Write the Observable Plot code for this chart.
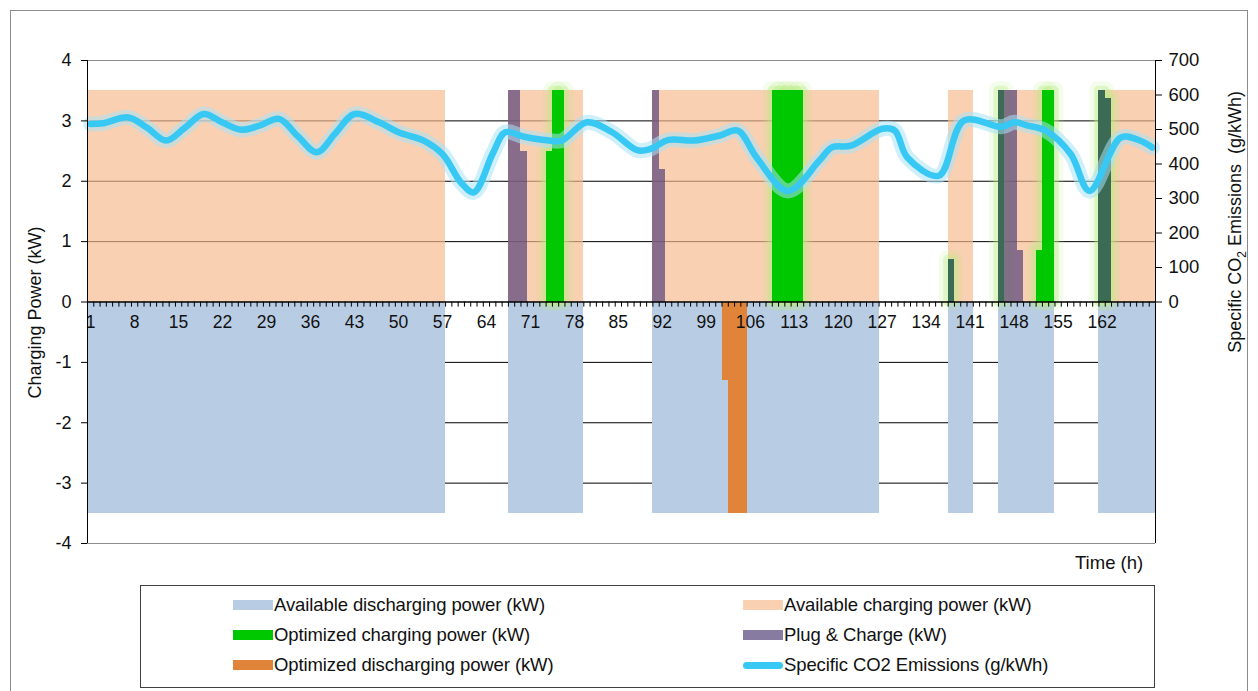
<!DOCTYPE html>
<html>
<head>
<meta charset="utf-8">
<script src="https://cdn.jsdelivr.net/npm/d3@7"></script>
<script src="https://cdn.jsdelivr.net/npm/@observablehq/plot@0.6"></script>
<style>
  html, body { margin: 0; padding: 0; background: #fff; overflow: hidden; }
  #wrap { position: relative; width: 1258px; height: 691px; font-family: "Liberation Sans", Arial, sans-serif; color: #111; }
  #border { position: absolute; left: 10px; top: 10px; width: 1236px; height: 700px; border: 1px solid #8c8c8c; }
  #chart { position: absolute; left: 0; top: 0; }
  .ylab { position: absolute; font-size: 18px; white-space: nowrap; transform-origin: center center; }
  #legend { position: absolute; left: 140px; top: 585px; width: 1013px; height: 101px; border: 1px solid #404040; background: #fff; }
  .item { position: absolute; font-size: 18.5px; white-space: nowrap; line-height: 20px; letter-spacing: -0.1px; }
  .sw { display: inline-block; width: 40px; height: 10px; vertical-align: middle; margin-right: 1px; position: relative; top: -1px; }
</style>
</head>
<body>
<div id="wrap">
  <div id="border"></div>
  <div id="chart"></div>
  <div class="ylab" id="leftTitle">Charging Power (kW)</div>
  <div class="ylab" id="rightTitle">Specific CO<sub style="font-size:12px">2</sub> Emissions&nbsp; (g/kWh)</div>
  <div class="ylab" id="xTitle" style="left:1075px; top:552px; font-size:18.5px;">Time (h)</div>
  <div id="legend"></div>
</div>
<script>
// ---------------- data ----------------
const hourCount = 170;
const xTickLabels = [1, 8, 15, 22, 29, 36, 43, 50, 57, 64, 71, 78, 85, 92, 99, 106, 113, 120, 127, 134, 141, 148, 155, 162];
const leftTicks = [-4, -3, -2, -1, 0, 1, 2, 3, 4];
const co2Ticks = [0, 100, 200, 300, 400, 500, 600, 700];

// periods when the vehicle is plugged in [first hour, last hour]
const pluggedWindows = [[1, 57], [68, 79], [91, 126], [138, 141], [146, 154], [162, 170]];
const availableCharging = 3.5;     // kW
const availableDischarging = -3.5; // kW

// [hour, kW]
const optimizedCharging = [[74, 2.5], [75, 3.5], [76, 3.5], [110, 3.5], [111, 3.5], [112, 3.5], [113, 3.5], [114, 3.5],
  [138, 0.7], [146, 3.5], [152, 0.86], [153, 3.5], [154, 3.5], [162, 3.5], [163, 3.37]];
const plugAndCharge = [[68, 3.5], [69, 3.5], [70, 2.5], [91, 3.5], [92, 2.2], [138, 0.7], [146, 3.5], [147, 3.5],
  [148, 3.5], [149, 0.86], [162, 3.5], [163, 3.37]];
const optimizedDischarging = [[102, -1.3], [103, -3.5], [104, -3.5], [105, -3.5]];

// [hour, g/kWh]
const co2Emissions = [[1, 516], [3, 518], [7, 535], [10, 505], [13, 468], [16, 505], [19, 545], [22, 520], [25, 499],
  [28, 512], [31, 531], [34, 480], [37, 434], [40, 490], [43, 545], [47, 520], [50, 492], [54, 468], [57, 429],
  [60, 345], [62, 318], [65, 430], [67, 492], [70, 479], [74, 468], [76, 468], [80, 521], [84, 492], [88, 440],
  [90, 443], [93, 470], [97, 468], [101, 482], [104, 497], [107, 419], [112, 322], [117, 410], [119, 448],
  [122, 453], [127, 502], [129, 497], [131, 419], [136, 366], [140, 526], [146, 508], [148, 521], [150, 512],
  [153, 497], [157, 429], [160, 322], [165, 477], [168, 468], [170, 448]];

// ---------------- chart ----------------
const co2Max = 700, yTop = 4;
const toKW = v => v * yTop / co2Max;
const boundaries = d3.range(0, hourCount + 1).map(i => i + 0.5);

const colors = {
  discharge: "#b8cce4",
  charge: "#f7b98e",
  green: "#00c800",
  glow: "#b8ee82",
  purple: "rgb(86,67,121)",
  orange: "#e0843a",
  co2: "#38c8f4",
  co2glow: "#a8e2f7"
};

const chart = Plot.plot({
  width: 1258,
  height: 580,
  marginLeft: 87,
  marginRight: 103,
  marginTop: 60,
  marginBottom: 37,
  x: { domain: [0.5, hourCount + 0.5], axis: null },
  y: { domain: [-4, 4], axis: null },
  style: { fontFamily: "Liberation Sans, Arial, sans-serif", fontSize: "18px", color: "#111", background: "transparent" },
  marks: [
    Plot.ruleY(leftTicks.filter(d => Math.abs(d) !== 4 && d !== 0), { stroke: "#000", strokeWidth: 1 }),
    Plot.ruleY([-4, 4], { stroke: "#8c8c8c", strokeWidth: 1 }),
    Plot.rectY(pluggedWindows, { x1: d => d[0] - 0.5, x2: d => d[1] + 0.5, y1: 0, y2: availableCharging, fill: colors.charge, fillOpacity: 0.68, shapeRendering: "crispEdges" }),
    Plot.rectY(pluggedWindows, { x1: d => d[0] - 0.5, x2: d => d[1] + 0.5, y1: 0, y2: availableDischarging, fill: colors.discharge, shapeRendering: "crispEdges" }),
    // glow of optimized charging
    Plot.rectY(optimizedCharging, { x1: d => d[0] - 0.5, x2: d => d[0] + 0.5, y1: 0, y2: d => d[1], fill: colors.glow, stroke: colors.glow, strokeWidth: 18, strokeOpacity: 0.16, fillOpacity: 0.2, strokeLinejoin: "round" }),
    Plot.rectY(optimizedCharging, { x1: d => d[0] - 0.5, x2: d => d[0] + 0.5, y1: 0, y2: d => d[1], fill: "none", stroke: colors.glow, strokeWidth: 9, strokeOpacity: 0.35, strokeLinejoin: "round" }),
    Plot.rectY(optimizedCharging, { x1: d => d[0] - 0.5, x2: d => d[0] + 0.5, y1: 0, y2: d => d[1], fill: colors.green, shapeRendering: "crispEdges" }),
    Plot.rectY(plugAndCharge, { x1: d => d[0] - 0.5, x2: d => d[0] + 0.5, y1: 0, y2: d => d[1], fill: colors.purple, fillOpacity: 0.7, shapeRendering: "crispEdges" }),
    Plot.rectY(optimizedDischarging, { x1: d => d[0] - 0.5, x2: d => d[0] + 0.5, y1: 0, y2: d => d[1], fill: colors.orange, shapeRendering: "crispEdges" }),
    // CO2 line with glow
    Plot.line(co2Emissions, { x: d => d[0], y: d => toKW(d[1]), curve: "catmull-rom", stroke: colors.co2glow, strokeWidth: 15, strokeOpacity: 0.55 }),
    Plot.line(co2Emissions, { x: d => d[0], y: d => toKW(d[1]), curve: "catmull-rom", stroke: colors.co2, strokeWidth: 6.5 }),
    // x axis at zero
    Plot.ruleY([0], { stroke: "#000", strokeWidth: 1.5 }),
    Plot.ruleX(boundaries, { x: d => d, y1: 0, y2: -0.085, stroke: "#000", strokeWidth: 1 }),
    Plot.text(xTickLabels, { x: d => d, y: 0, dy: 20, text: d => String(d), fill: "#111", fontSize: 17.5 }),
    // axes
    Plot.ruleX([0.5, hourCount + 0.5], { stroke: "#000", strokeWidth: 1 }),
    Plot.axisY(leftTicks, { anchor: "left", tickSize: 6, tickPadding: 10, tickFormat: d => String(d), label: null, fontSize: 18, stroke: "#000" }),
    Plot.axisY(co2Ticks.map(toKW), { anchor: "right", tickSize: 6, tickPadding: 7, tickFormat: d => String(Math.round(d * co2Max / yTop)), label: null, fontSize: 18.5, stroke: "#000" })
  ]
});
document.getElementById("chart").appendChild(chart);

// axis titles
const lt = document.getElementById("leftTitle");
lt.style.left = (35 - lt.offsetWidth / 2) + "px";
lt.style.top = (312 - lt.offsetHeight / 2) + "px";
lt.style.transform = "rotate(-90deg)";
const rt = document.getElementById("rightTitle");
rt.style.left = (1237 - rt.offsetWidth / 2) + "px";
rt.style.top = (222 - rt.offsetHeight / 2) + "px";
rt.style.transform = "rotate(-90deg)";

// legend
const legendItems = [
  { label: "Available discharging power (kW)", color: colors.discharge, opacity: 1, col: 0, row: 0 },
  { label: "Available charging power (kW)", color: colors.charge, opacity: 0.68, col: 1, row: 0 },
  { label: "Optimized charging power (kW)", color: colors.green, opacity: 1, col: 0, row: 1 },
  { label: "Plug & Charge (kW)", color: colors.purple, opacity: 0.7, col: 1, row: 1 },
  { label: "Optimized discharging power (kW)", color: colors.orange, opacity: 1, col: 0, row: 2 },
  { label: "Specific CO2 Emissions (g/kWh)", color: colors.co2, opacity: 1, col: 1, row: 2, line: true }
];
const legend = document.getElementById("legend");
for (const it of legendItems) {
  const el = document.createElement("div");
  el.className = "item";
  el.style.left = (it.col === 0 ? 92 : 602) + "px";
  el.style.top = (9 + it.row * 30) + "px";
  const sw = document.createElement("span");
  sw.className = "sw";
  sw.style.background = it.color;
  sw.style.opacity = it.opacity;
  if (it.line) { sw.style.height = "7px"; sw.style.borderRadius = "4px"; }
  el.appendChild(sw);
  el.appendChild(document.createTextNode(it.label));
  legend.appendChild(el);
}
</script>
</body>
</html>
